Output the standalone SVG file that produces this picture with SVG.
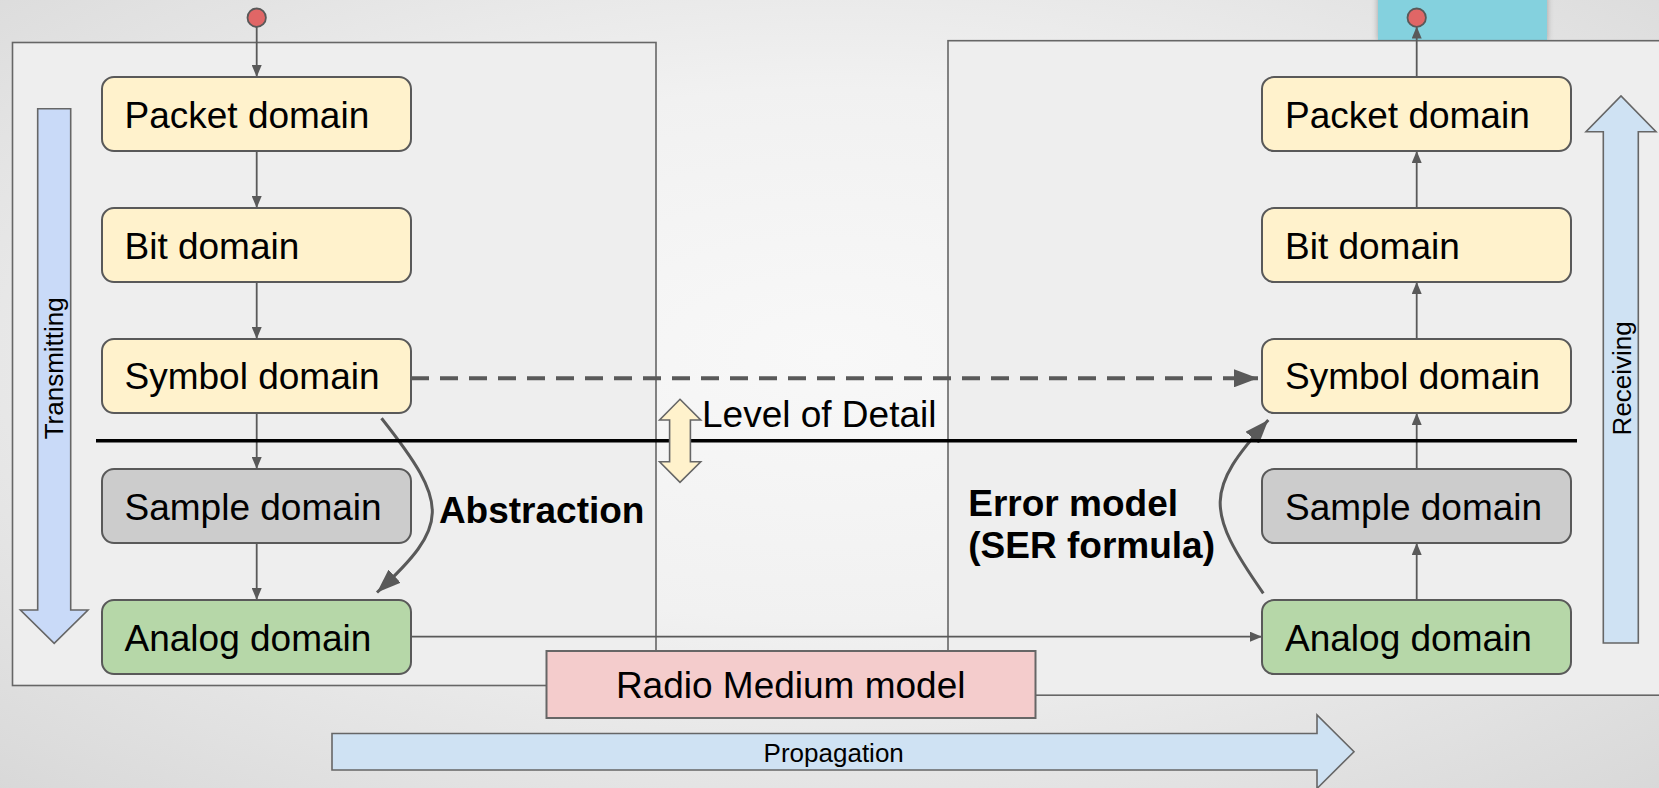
<svg xmlns="http://www.w3.org/2000/svg" width="1659" height="788" viewBox="0 0 1659 788">
  <defs>
    <radialGradient id="bg" cx="50%" cy="45%" r="75%">
      <stop offset="0" stop-color="#f8f8f8"/>
      <stop offset="0.45" stop-color="#f1f1f1"/>
      <stop offset="1" stop-color="#d8d8d8"/>
    </radialGradient>
    <filter id="shadow" x="-10%" y="-10%" width="120%" height="130%">
      <feDropShadow dx="0" dy="0" stdDeviation="3" flood-color="#000" flood-opacity="0.3"/>
    </filter>
    <!-- small arrowhead for the domain-to-domain links -->
    <marker id="tip" markerUnits="userSpaceOnUse" viewBox="0 0 12 10" markerWidth="12" markerHeight="10" refX="12" refY="5" orient="auto">
      <path d="M0,0 L12,5 L0,10 z" fill="#595959"/>
    </marker>
    <!-- large arrowhead for the abstraction / error-model curves and the dashed link -->
    <marker id="bigtip" markerUnits="userSpaceOnUse" viewBox="0 0 24 18" markerWidth="24" markerHeight="18" refX="24" refY="9" orient="auto">
      <path d="M0,0 L24,9 L0,18 z" fill="#595959"/>
    </marker>
    <style>
      .frame { fill: #eeeeee; stroke: #666666; stroke-width: 1.6; }
      .node rect { stroke: #595959; stroke-width: 2; }
      .yellow rect { fill: #fff2cc; }
      .grey rect { fill: #cccccc; }
      .green rect { fill: #b6d7a8; }
      .label { font-family: "Liberation Sans", Arial, sans-serif; font-size: 37px; fill: #000; }
      .bold { font-weight: bold; }
      .small { font-family: "Liberation Sans", Arial, sans-serif; font-size: 26px; fill: #000; }
      .link { stroke: #595959; stroke-width: 1.8; fill: none; }
      .curve { stroke: #595959; stroke-width: 3; fill: none; }
      .fat { stroke: #666666; stroke-width: 1.6; }
      .dot { fill: #e06666; stroke: #595959; stroke-width: 1.8; }
    </style>
  </defs>

  <!-- background -->
  <rect x="0" y="0" width="1659" height="788" fill="url(#bg)"/>

  <!-- receiver output area -->
  <rect x="1378" y="-5" width="169" height="46" fill="#84d1de" filter="url(#shadow)"/>

  <!-- transmitter and receiver frames -->
  <g id="tx-frame">
    <rect class="frame" x="12.5" y="42.5" width="643.5" height="643"/>
  </g>
  <g id="rx-frame">
    <rect class="frame" x="948" y="40.7" width="760" height="654.5"/>
  </g>

  <!-- direction arrows -->
  <g id="transmitting">
    <polygon class="fat" fill="#c9daf8" points="37.7,108.7 70.7,108.7 70.7,610 88,610 54.2,643.3 20.4,610 37.7,610"/>
    <text class="small" transform="translate(63.3,368.3) rotate(-90)" text-anchor="middle">Transmitting</text>
  </g>
  <g id="receiving">
    <polygon class="fat" fill="#cfe2f3" points="1603.3,643 1638.3,643 1638.3,131.7 1656,131.7 1621,96 1586,131.7 1603.3,131.7"/>
    <text class="small" transform="translate(1631,378.3) rotate(-90)" text-anchor="middle">Receiving</text>
  </g>
  <g id="propagation">
    <polygon class="fat" fill="#cfe2f3" points="332,733.5 1317,733.5 1317,715 1354,751.7 1317,788.5 1317,770 332,770"/>
    <text class="small" x="833.7" y="761.7" text-anchor="middle">Propagation</text>
  </g>

  <!-- connectors -->
  <g id="connectors">
    <!-- transmitter chain -->
    <line class="link" x1="256.7" y1="27" x2="256.7" y2="77" marker-end="url(#tip)"/>
    <line class="link" x1="256.7" y1="151" x2="256.7" y2="208" marker-end="url(#tip)"/>
    <line class="link" x1="256.7" y1="282" x2="256.7" y2="339" marker-end="url(#tip)"/>
    <line class="link" x1="256.7" y1="413" x2="256.7" y2="469" marker-end="url(#tip)"/>
    <line class="link" x1="256.7" y1="543" x2="256.7" y2="600" marker-end="url(#tip)"/>
    <!-- receiver chain -->
    <line class="link" x1="1416.7" y1="600" x2="1416.7" y2="543" marker-end="url(#tip)"/>
    <line class="link" x1="1416.7" y1="469" x2="1416.7" y2="413" marker-end="url(#tip)"/>
    <line class="link" x1="1416.7" y1="339" x2="1416.7" y2="282" marker-end="url(#tip)"/>
    <line class="link" x1="1416.7" y1="208" x2="1416.7" y2="151" marker-end="url(#tip)"/>
    <line class="link" x1="1416.7" y1="77" x2="1416.7" y2="26.5" marker-end="url(#tip)"/>
    <!-- analog signal across the medium -->
    <line class="link" x1="411" y1="636.7" x2="1262" y2="636.7" marker-end="url(#tip)"/>
    <!-- symbol-level shortcut -->
    <line x1="411" y1="378.3" x2="1258" y2="378.3" stroke="#595959" stroke-width="4" stroke-dasharray="18 11" marker-end="url(#bigtip)"/>
    <!-- abstraction and error model curves -->
    <path class="curve" d="M381.5,418.3 C450,505 450,525 377,592.5" marker-end="url(#bigtip)"/>
    <path class="curve" d="M1263.3,593.3 C1205,510 1205,490 1268.3,420" marker-end="url(#bigtip)"/>
  </g>

  <!-- start and end points -->
  <g id="tx-source"><circle class="dot" cx="256.7" cy="17.7" r="9.2"/></g>
  <g id="rx-sink"><circle class="dot" cx="1416.7" cy="17.7" r="9.2"/></g>

  <!-- transmitter domains -->
  <g id="tx-packet" class="node yellow">
    <rect x="102" y="77" width="309" height="74" rx="12"/>
    <text class="label" x="124.5" y="127.7">Packet domain</text>
  </g>
  <g id="tx-bit" class="node yellow">
    <rect x="102" y="208" width="309" height="74" rx="12"/>
    <text class="label" x="124.5" y="258.7">Bit domain</text>
  </g>
  <g id="tx-symbol" class="node yellow">
    <rect x="102" y="339" width="309" height="74" rx="12"/>
    <text class="label" x="124.5" y="389.2">Symbol domain</text>
  </g>
  <g id="tx-sample" class="node grey">
    <rect x="102" y="469" width="309" height="74" rx="12"/>
    <text class="label" x="124.5" y="519.5">Sample domain</text>
  </g>
  <g id="tx-analog" class="node green">
    <rect x="102" y="600" width="309" height="74" rx="12"/>
    <text class="label" x="124.5" y="650.5">Analog domain</text>
  </g>

  <!-- receiver domains -->
  <g id="rx-packet" class="node yellow">
    <rect x="1262" y="77" width="309" height="74" rx="12"/>
    <text class="label" x="1285" y="127.7">Packet domain</text>
  </g>
  <g id="rx-bit" class="node yellow">
    <rect x="1262" y="208" width="309" height="74" rx="12"/>
    <text class="label" x="1285" y="258.7">Bit domain</text>
  </g>
  <g id="rx-symbol" class="node yellow">
    <rect x="1262" y="339" width="309" height="74" rx="12"/>
    <text class="label" x="1285" y="389.2">Symbol domain</text>
  </g>
  <g id="rx-sample" class="node grey">
    <rect x="1262" y="469" width="309" height="74" rx="12"/>
    <text class="label" x="1285" y="519.5">Sample domain</text>
  </g>
  <g id="rx-analog" class="node green">
    <rect x="1262" y="600" width="309" height="74" rx="12"/>
    <text class="label" x="1285" y="650.5">Analog domain</text>
  </g>

  <!-- radio medium -->
  <g id="radio-medium">
    <rect x="546.5" y="651" width="489" height="67" fill="#f4cccc" stroke="#666666" stroke-width="2"/>
    <text class="label" x="790.7" y="697.7" text-anchor="middle">Radio Medium model</text>
  </g>

  <!-- level of detail divider -->
  <g id="level-of-detail">
    <line x1="96" y1="440.7" x2="1577" y2="440.7" stroke="#000" stroke-width="3.5"/>
    <polygon class="fat" fill="#fff2cc" points="680,399.3 700.7,420 690.4,420 690.4,461.7 700.7,461.7 680,482.3 659.6,461.7 669.6,461.7 669.6,420 659.6,420"/>
    <text class="label" x="702" y="426.7">Level of Detail</text>
  </g>

  <!-- curve labels -->
  <g id="abstraction-label">
    <text class="label bold" x="438.9" y="523.3">Abstraction</text>
  </g>
  <g id="error-model-label">
    <text class="label bold" x="968.3" y="516">Error model</text>
    <text class="label bold" x="968.3" y="558">(SER formula)</text>
  </g>
</svg>
